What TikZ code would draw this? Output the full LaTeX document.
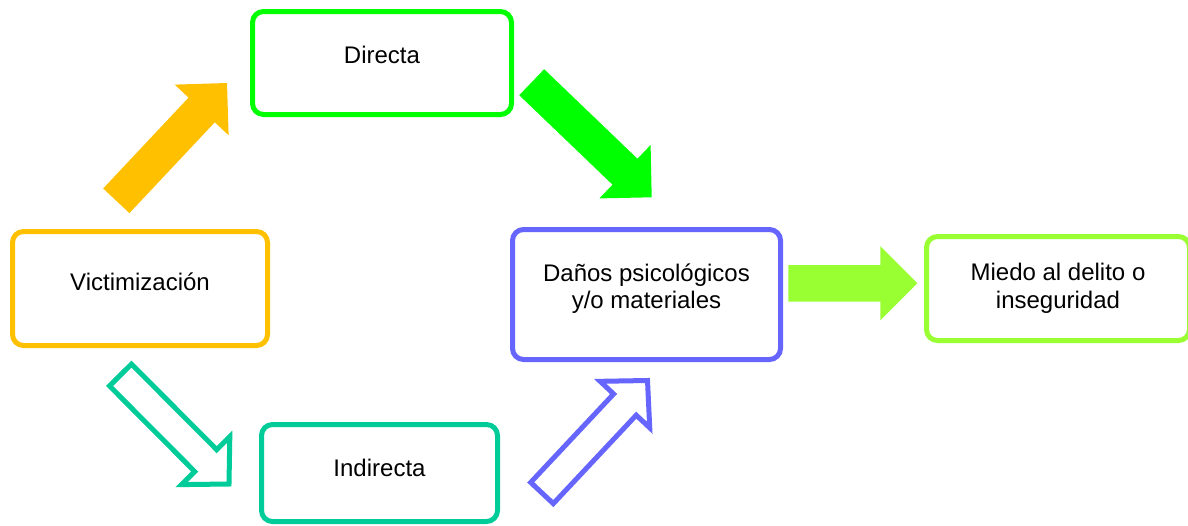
\documentclass[tikz,border=0pt]{standalone}
\usepackage{fontspec}
\setmainfont{Liberation Sans}
\usetikzlibrary{calc}
\definecolor{cOrange}{HTML}{FFC000}
\definecolor{cGreen}{HTML}{00FF00}
\definecolor{cTeal}{HTML}{00CC99}
\definecolor{cBlue}{HTML}{6666FF}
\definecolor{cLime}{HTML}{99FF33}
% #1 style, #2 tail, #3 tip, #4 prefix, #5 shaft half width, #6 head half width, #7 head length
\newcommand{\blockarrow}[7]{%
  \coordinate (#4b) at ($(#3)!#7!(#2)$);
  \path[#1] ($(#2)!#5!90:(#3)$) -- ($(#4b)!#5!90:(#3)$) -- ($(#4b)!#6!90:(#3)$) -- (#3)
    -- ($(#4b)!#6!-90:(#3)$) -- ($(#4b)!#5!-90:(#3)$) -- ($(#2)!#5!-90:(#3)$) -- cycle;
}
\tikzset{
  box/.style={draw, rounded corners=11pt, line width=5pt, fill=white, inner sep=0pt},
  txt/.style={font=\fontsize{24}{27.5}\selectfont, align=center, inner sep=0pt, text=black},
  solidarrow/.style={fill=#1, draw=none},
  hollowarrow/.style={draw=#1, line width=5pt, fill=white, line join=miter},
}
\begin{document}
\begin{tikzpicture}[x=1pt,y=-1pt]
\useasboundingbox (0,0) rectangle (1188,525);

% boxes
\node[box, draw=cGreen, minimum width=259pt, minimum height=103pt] (dir) at (382,63) {};
\node[box, draw=cOrange, minimum width=255pt, minimum height=114pt] (vic) at (140,288.5) {};
\node[box, draw=cTeal, minimum width=236pt, minimum height=97pt] (ind) at (379.5,473) {};
\node[box, draw=cBlue, minimum width=268pt, minimum height=130pt] (dan) at (646.5,294.5) {};
\node[box, draw=cLime, minimum width=263pt, minimum height=104pt] (mie) at (1058,288.5) {};

% texts
\node[txt] (tdir) at ([yshift=8pt]dir.center) {Directa};
\node[txt] (tvic) at ([yshift=6.5pt]vic.center) {Victimización};
\node[txt] (tind) at ([yshift=5pt]ind.center) {Indirecta};
\node[txt] (tdan) at ([yshift=6pt]dan.center) {Daños psicológicos\\y/o materiales};
\node[txt] (tmie) at (mie.center) {Miedo al delito o\\inseguridad};

% arrow end points
\coordinate (o1) at (116.3,200.8);
\coordinate (o2) at (227,83);
\coordinate (g1) at (531.7,82.2);
\coordinate (g2) at (651.7,197.3);
\coordinate (t1) at (120.5,375);
\coordinate (t2) at (229,484);
\coordinate (b1) at (542,493);
\coordinate (b2) at (647.5,380.5);
\coordinate (l1) at (788.3,283.3);
\coordinate (l2) at (917.3,283.3);

\blockarrow{solidarrow=cOrange}{o1}{o2}{o}{18pt}{37pt}{37pt}
\blockarrow{solidarrow=cGreen}{g1}{g2}{g}{18pt}{37pt}{37pt}
\blockarrow{hollowarrow=cTeal}{t1}{t2}{t}{15.5pt}{34pt}{33pt}
\blockarrow{hollowarrow=cBlue}{b1}{b2}{bl}{15.5pt}{34pt}{33pt}
\blockarrow{solidarrow=cLime}{l1}{l2}{l}{18.3pt}{37pt}{37pt}
\end{tikzpicture}
\end{document}
